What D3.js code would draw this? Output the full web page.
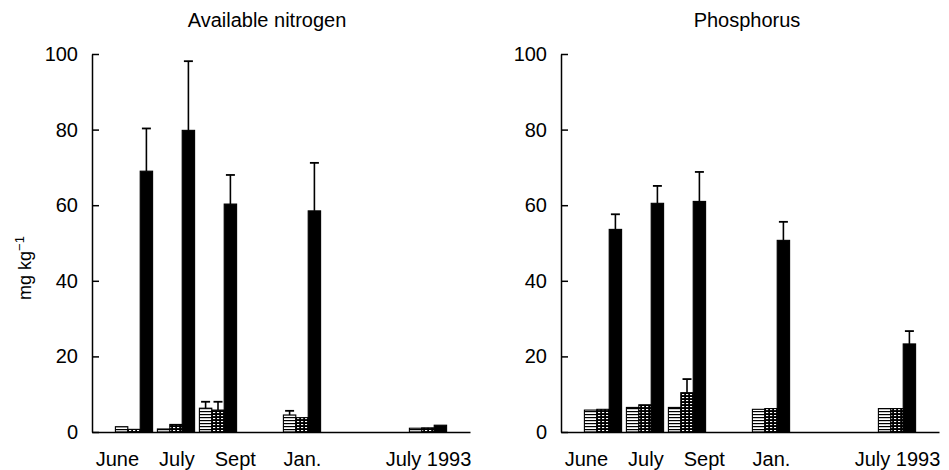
<!DOCTYPE html>
<html>
<head>
<meta charset="utf-8">
<script src="https://cdn.jsdelivr.net/npm/d3@7"></script>
<style>
  html, body { margin: 0; padding: 0; background: #fff; }
  svg { display: block; font-family: "Liberation Sans", Arial, Helvetica, sans-serif; }
</style>
</head>
<body>
<svg id="chart" width="949" height="470"></svg>
<script>
// ---- data ----
const categories = ["June", "July", "Sept", "Jan.", "July 1993"];
const slots = [0, 1, 2, 4, 7];
const yTicks = [0, 20, 40, 60, 80, 100];
const panelTitles = ["Available nitrogen", "Phosphorus"];
const yLabel = "mg kg";
const yLabelSup = "\u22121";

// Available nitrogen
const nitroStriped    = [1.4, 0.8, 6.3, 4.5, 1.0];
const nitroStripedErr = [0, 0, 1.7, 1.1, 0];
const nitroGrid       = [0.7, 2.0, 5.8, 3.8, 1.1];
const nitroGridErr    = [0, 0, 2.2, 0, 0];
const nitroBlack      = [69.0, 79.8, 60.3, 58.5, 1.8];
const nitroBlackErr   = [11.3, 18.3, 7.7, 12.7, 0];

// Phosphorus
const phosStriped    = [5.8, 6.5, 6.5, 6.0, 6.2];
const phosStripedErr = [0, 0, 0, 0, 0];
const phosGrid       = [6.0, 7.2, 10.4, 6.2, 6.2];
const phosGridErr    = [0, 0, 3.6, 0, 0];
const phosBlack      = [53.6, 60.5, 61.0, 50.7, 23.3];
const phosBlackErr   = [4.0, 4.6, 7.8, 4.9, 3.4];

const panels = [
  { title: panelTitles[0], series: [
      { fill: "url(#striped)", values: nitroStriped, err: nitroStripedErr },
      { fill: "url(#grid)",    values: nitroGrid,    err: nitroGridErr },
      { fill: "#000",          values: nitroBlack,   err: nitroBlackErr } ] },
  { title: panelTitles[1], series: [
      { fill: "url(#striped)", values: phosStriped, err: phosStripedErr },
      { fill: "url(#grid)",    values: phosGrid,    err: phosGridErr },
      { fill: "#000",          values: phosBlack,   err: phosBlackErr } ] }
];

// ---- layout ----
const svg = d3.select("#chart");
const panelX = [92, 561];
const titleX = [267, 747];
const plotW = 378;
const plotTop = 54, plotBottom = 432;
const bw = 12.4;
const fontSize = 20;
const labelGap = 20;

// patterns
const defs = svg.append("defs");
const ps = defs.append("pattern").attr("id", "striped")
  .attr("patternUnits", "userSpaceOnUse").attr("width", 4).attr("height", 3);
ps.append("rect").attr("width", 4).attr("height", 3).attr("fill", "#fff");
ps.append("rect").attr("y", 0).attr("width", 4).attr("height", 1.2).attr("fill", "#000");

const pg = defs.append("pattern").attr("id", "grid")
  .attr("patternUnits", "userSpaceOnUse").attr("width", 4).attr("height", 3);
pg.append("rect").attr("width", 4).attr("height", 3).attr("fill", "#000");
pg.append("rect").attr("x", 1).attr("y", 1).attr("width", 2.2).attr("height", 1.1).attr("fill", "#fff");

const y = d3.scaleLinear().domain([0, 100]).range([plotBottom, plotTop]);
const x = d3.scaleLinear().domain([-1, 8]).range([0, plotW]);

panels.forEach((p, pi) => {
  const g = svg.append("g").attr("transform", `translate(${panelX[pi]},0)`);

  // bars
  p.series.forEach((s, si) => {
    const sg = g.append("g");
    sg.selectAll("rect").data(s.values).join("rect")
      .attr("x", (d, i) => x(slots[i]) + (si - 1.5) * bw)
      .attr("y", d => y(d))
      .attr("width", bw)
      .attr("height", d => y(0) - y(d))
      .attr("fill", s.fill)
      .attr("stroke", "#000")
      .attr("stroke-width", 1.1);

    // error bars
    const eb = sg.selectAll("g.err").data(s.values.map((v, i) => ({ v, e: s.err[i], i })).filter(d => d.e > 0))
      .join("g").attr("class", "err");
    eb.append("line")
      .attr("x1", d => x(slots[d.i]) + (si - 1) * bw)
      .attr("x2", d => x(slots[d.i]) + (si - 1) * bw)
      .attr("y1", d => y(d.v))
      .attr("y2", d => y(d.v + d.e))
      .attr("stroke", "#000").attr("stroke-width", 1.6);
    eb.append("line")
      .attr("x1", d => x(slots[d.i]) + (si - 1) * bw - 4.5)
      .attr("x2", d => x(slots[d.i]) + (si - 1) * bw + 4.5)
      .attr("y1", d => y(d.v + d.e))
      .attr("y2", d => y(d.v + d.e))
      .attr("stroke", "#000").attr("stroke-width", 1.8);
  });

  // y axis
  const ya = g.append("g").call(
    d3.axisLeft(y).tickValues(yTicks).tickSizeInner(-7).tickSizeOuter(0).tickPadding(14)
  );
  ya.selectAll("path, line").attr("stroke", "#000").attr("stroke-width", 1.5);
  ya.selectAll("text").attr("font-size", fontSize).attr("fill", "#000")
    .attr("font-family", "Liberation Sans, Arial, sans-serif");

  // x axis
  const xa = g.append("g").attr("transform", `translate(0,${plotBottom})`).call(
    d3.axisBottom(x).tickValues(slots).tickFormat((d, i) => categories[i])
      .tickSize(0).tickPadding(20)
  );
  xa.select("path").attr("stroke", "#000").attr("stroke-width", 1.5);
  const labels = xa.selectAll("text").attr("font-size", fontSize).attr("fill", "#000")
    .attr("font-family", "Liberation Sans, Arial, sans-serif");

  // spread overlapping category labels apart (simple relaxation)
  const items = labels.nodes().map((n, i) => ({ n, c: x(slots[i]), w: n.getComputedTextLength() }));
  for (let it = 0; it < 200; it++) {
    for (let k = 0; k < items.length - 1; k++) {
      const a = items[k], b = items[k + 1];
      const need = (a.w + b.w) / 2 + labelGap;
      const have = b.c - a.c;
      if (have < need) {
        const push = (need - have) / 2;
        a.c -= push; b.c += push;
      }
    }
  }
  items.forEach((d, i) => d3.select(d.n).attr("x", d.c - x(slots[i])));

  // title
  svg.append("text")
    .attr("x", titleX[pi]).attr("y", 27)
    .attr("text-anchor", "middle")
    .attr("font-size", fontSize)
    .text(p.title);
});

// y label
const yl = svg.append("text")
  .attr("transform", "translate(31,268) rotate(-90)")
  .attr("text-anchor", "middle")
  .attr("font-size", 18);
yl.append("tspan").text(yLabel);
yl.append("tspan").attr("dy", -7).attr("font-size", 13).text(yLabelSup);
</script>
</body>
</html>
